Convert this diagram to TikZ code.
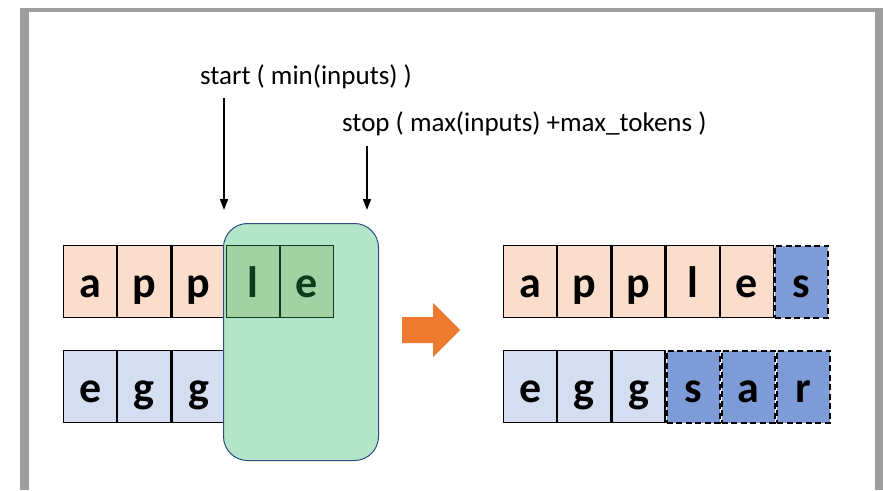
\documentclass[tikz,border=0pt]{standalone}
\usepackage{fontspec}
\setmainfont{Carlito}
\usetikzlibrary{arrows.meta}
\definecolor{framegray}{HTML}{9E9E9E}
\definecolor{cellorange}{HTML}{FBDDCB}
\definecolor{celllight}{HTML}{D5DEF1}
\definecolor{celldark}{HTML}{7D9BD6}
\definecolor{winfill}{HTML}{B3E5C8}
\definecolor{winedge}{HTML}{2E4A87}
\definecolor{cellgreen}{HTML}{A3D1A3}
\definecolor{textgreen}{HTML}{0E3B1C}
\definecolor{arroworange}{HTML}{EE7A30}
\tikzset{
  cell/.style={draw=black, line width=1.2pt, minimum width=53pt, minimum height=72pt,
    inner sep=0pt, font=\fontsize{44}{44}\selectfont\bfseries, text height=32pt, text depth=0pt},
  ocell/.style={cell, fill=cellorange},
  bcell/.style={cell, fill=celllight},
  ncell/.style={cell, fill=celldark, dash pattern=on 6pt off 3.5pt, line width=2.2pt},
  gcell/.style={cell, fill=cellgreen, draw=textgreen, text=textgreen},
  lbl/.style={inner sep=0pt, font=\fontsize{27}{27}\selectfont},
  ptr/.style={line width=1.6pt, -{Triangle[length=11pt,width=8pt]}},
}
\begin{document}
\begin{tikzpicture}[x=1pt,y=-1pt]
\useasboundingbox (0,0) rectangle (883,490);
% frame
\fill[framegray] (20,8) rectangle (883,490);
\fill[white] (29,12) rectangle (875,490);
% left rows
\node[ocell, anchor=north west] (a1) at (63,245) {a};
\node[ocell, anchor=west] (p1) at (a1.east) {p};
\node[ocell, anchor=west] (p2) at (p1.east) {p};
\node[bcell, anchor=north west] (e1) at (63,350) {e};
\node[bcell, anchor=west] (g1) at (e1.east) {g};
\node[bcell, anchor=west] (g2) at (g1.east) {g};
% window
\node[draw=winedge, fill=winfill, line width=1pt, rounded corners=24pt, minimum width=155pt,
  minimum height=237pt, anchor=north west, inner sep=0pt] (win) at (223,223) {};
\node[gcell, anchor=west] (l1) at (p2.east) {l};
\node[gcell, anchor=west] (e2) at (l1.east) {e};
% labels and pointers
\node[lbl, anchor=west] (start) at (200,77) {start ( min(inputs) )};
\node[lbl, anchor=west] (stop) at (342,124) {stop ( max(inputs) +max\_tokens )};
\coordinate (s1) at (224,98);
\coordinate (s2) at (224,210);
\coordinate (t1) at (367,146);
\coordinate (t2) at (367,210);
\draw[ptr] (s1) -- (s2);
\draw[ptr] (t1) -- (t2);
% big arrow
\fill[arroworange] (402,317) -- (433,317) -- (433,303) -- (460,330) -- (433,357) -- (433,343) -- (402,343) -- cycle;
% right rows
\node[ocell, anchor=north west] (ra1) at (503,245) {a};
\node[ocell, anchor=west] (rp1) at (ra1.east) {p};
\node[ocell, anchor=west] (rp2) at (rp1.east) {p};
\node[ocell, anchor=west] (rl1) at (rp2.east) {l};
\node[ocell, anchor=west] (re1) at (rl1.east) {e};
\node[ncell, anchor=west] (rs1) at (re1.east) {s};
\node[bcell, anchor=north west] (re2) at (503,350) {e};
\node[bcell, anchor=west] (rg1) at (re2.east) {g};
\node[bcell, anchor=west] (rg2) at (rg1.east) {g};
\node[ncell, anchor=west] (rs2) at (rg2.east) {s};
\node[ncell, anchor=west] (ra2) at (rs2.east) {a};
\node[ncell, anchor=west] (rr2) at (ra2.east) {r};
\end{tikzpicture}
\end{document}
